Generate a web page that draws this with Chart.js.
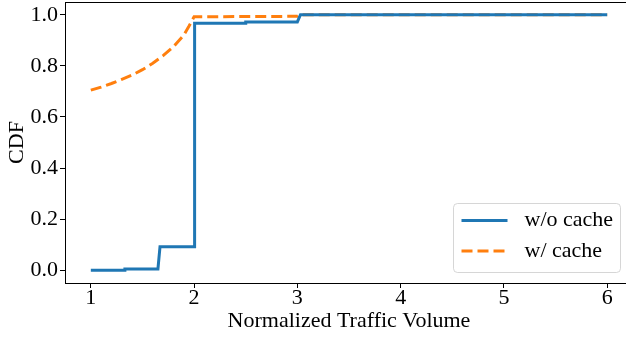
<!DOCTYPE html>
<html>
<head>
<meta charset="utf-8">
<title>CDF of normalized traffic volume</title>
<script src="https://cdn.jsdelivr.net/npm/chart.js@4.4.1/dist/chart.umd.min.js"></script>
<style>
  html, body { margin: 0; padding: 0; background: #fff; overflow: hidden; }
  #wrap { width: 626px; height: 337px; overflow: hidden; }
</style>
</head>
<body>
<div id="wrap"><canvas id="cdfChart" width="633" height="337"></canvas></div>
<script>
// ==================== DATA ====================
const noCacheX = [1.0, 1.33, 1.33, 1.65, 1.67, 2.0, 2.005, 2.5, 2.5, 3.0, 3.03, 6.0];
const noCacheY = [0.0, 0.0, 0.005, 0.005, 0.092, 0.092, 0.967, 0.967, 0.972, 0.972, 1.0, 1.0];

const cacheX = [1.0, 1.1, 1.2, 1.3, 1.4, 1.5, 1.6, 1.7, 1.8, 1.9, 1.95, 2.0, 2.5, 3.0, 3.02, 6.0];
const cacheY = [0.705, 0.717, 0.731, 0.747, 0.764, 0.785, 0.81, 0.84, 0.875, 0.92, 0.955, 0.992, 0.993, 0.994, 1.0, 1.0];

const xTicks = [1, 2, 3, 4, 5, 6];
const yTicks = [0, 0.2, 0.4, 0.6, 0.8, 1.0];

const seriesLabels = ["w/o cache", "w/ cache"];

// ==================== STYLE ====================
const FONT = "'Liberation Serif', 'Times New Roman', serif";
const BLUE = "#1f77b4";
const ORANGE = "#ff7f0e";

function toPoints(xs, ys) {
  return xs.map((x, i) => ({ x: x, y: ys[i] }));
}

// frame (top + left spines; right spine falls outside the crop)
const framePlugin = {
  id: "frame",
  beforeDatasetsDraw(chart) {
    const { ctx, chartArea } = chart;
    ctx.save();
    ctx.strokeStyle = "#000";
    ctx.lineWidth = 1;
    ctx.strokeRect(chartArea.left + 0.5, chartArea.top + 0.5,
      chartArea.right - chartArea.left - 1, chartArea.bottom - chartArea.top);
    ctx.restore();
  },
};

// legend drawn inside the plot, lower right
const innerLegend = {
  id: "innerLegend",
  afterDatasetsDraw(chart) {
    const { ctx, chartArea } = chart;
    const boxW = 167, boxH = 69;
    const bx = chartArea.right - 13 - boxW + 0.5;
    const by = chartArea.bottom - 11 - boxH + 0.5;
    const r = 4;

    ctx.save();
    ctx.beginPath();
    ctx.moveTo(bx + r, by);
    ctx.lineTo(bx + boxW - r, by);
    ctx.arcTo(bx + boxW, by, bx + boxW, by + r, r);
    ctx.lineTo(bx + boxW, by + boxH - r);
    ctx.arcTo(bx + boxW, by + boxH, bx + boxW - r, by + boxH, r);
    ctx.lineTo(bx + r, by + boxH);
    ctx.arcTo(bx, by + boxH, bx, by + boxH - r, r);
    ctx.lineTo(bx, by + r);
    ctx.arcTo(bx, by, bx + r, by, r);
    ctx.closePath();
    ctx.fillStyle = "rgba(255,255,255,0.8)";
    ctx.fill();
    ctx.strokeStyle = "rgba(204,204,204,0.8)";
    ctx.lineWidth = 1;
    ctx.stroke();

    chart.data.datasets.forEach((ds, i) => {
      const ly = by + 17 + i * 30.5;
      ctx.beginPath();
      ctx.setLineDash(ds.borderDash || []);
      ctx.strokeStyle = ds.borderColor;
      ctx.lineWidth = ds.borderWidth;
      ctx.moveTo(bx + 8, ly);
      ctx.lineTo(bx + 54, ly);
      ctx.stroke();
      ctx.setLineDash([]);
      ctx.fillStyle = "#000";
      ctx.font = "22px " + FONT;
      ctx.textBaseline = "middle";
      ctx.textAlign = "left";
      ctx.fillText(ds.label, bx + 71, ly);
    });
    ctx.restore();
  },
};

new Chart(document.getElementById("cdfChart"), {
  type: "line",
  data: {
    datasets: [
      {
        label: seriesLabels[0],
        data: toPoints(noCacheX, noCacheY),
        borderColor: BLUE,
        borderWidth: 3,
        pointRadius: 0,
        tension: 0,
        fill: false,
      },
      {
        label: seriesLabels[1],
        data: toPoints(cacheX, cacheY),
        borderColor: ORANGE,
        borderWidth: 3,
        borderDash: [11, 5],
        pointRadius: 0,
        tension: 0,
        fill: false,
      },
    ],
  },
  options: {
    responsive: false,
    animation: false,
    devicePixelRatio: 1,
    layout: { padding: { top: 2, left: 0, right: 0, bottom: 0 } },
    plugins: {
      legend: { display: false },
      tooltip: { enabled: false },
    },
    scales: {
      x: {
        type: "linear",
        min: 0.75,
        max: 6.25,
        afterBuildTicks: (scale) => {
          scale.ticks = xTicks.map((v) => ({ value: v }));
        },
        afterFit: (scale) => {
          scale.height = 54;
          scale.paddingLeft = 0;
          scale.paddingRight = 0;
        },
        ticks: {
          color: "#000",
          padding: -3,
          maxRotation: 0,
          font: { family: FONT, size: 22 },
          callback: (v) => String(v),
        },
        grid: {
          drawOnChartArea: false,
          drawTicks: true,
          tickLength: 5,
          tickColor: "#000",
          tickWidth: 1,
        },
        border: { display: true, color: "#000", width: 1 },
        title: {
          display: true,
          text: "Normalized Traffic Volume",
          color: "#000",
          font: { family: FONT, size: 22 },
          padding: { top: 0, bottom: 3 },
        },
      },
      y: {
        type: "linear",
        min: -0.05,
        max: 1.05,
        afterBuildTicks: (scale) => {
          scale.ticks = yTicks.map((v) => ({ value: v }));
        },
        afterFit: (scale) => {
          scale.width = 65;
          scale.paddingTop = 0;
          scale.paddingBottom = 0;
        },
        ticks: {
          color: "#000",
          padding: 2,
          font: { family: FONT, size: 22 },
          callback: (v) => v.toFixed(1),
        },
        grid: {
          drawOnChartArea: false,
          drawTicks: true,
          tickLength: 5,
          tickColor: "#000",
          tickWidth: 1,
        },
        border: { display: true, color: "#000", width: 1 },
        title: {
          display: true,
          text: "CDF",
          color: "#000",
          font: { family: FONT, size: 22 },
          padding: { top: 4, bottom: 0 },
        },
      },
    },
  },
  plugins: [framePlugin, innerLegend],
});
</script>
</body>
</html>
